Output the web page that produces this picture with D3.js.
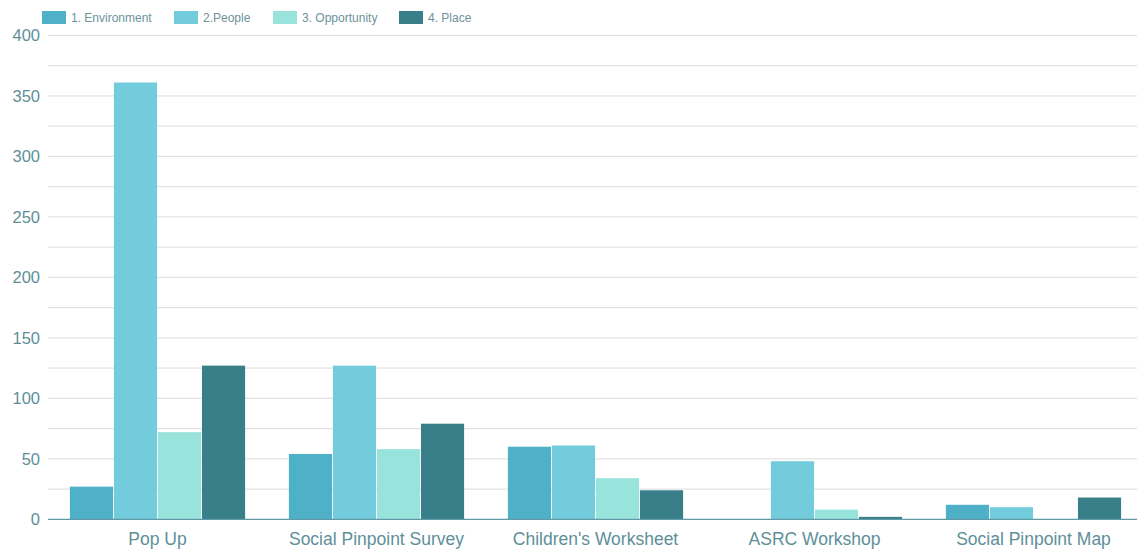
<!DOCTYPE html>
<html><head><meta charset="utf-8">
<script src="https://cdn.jsdelivr.net/npm/d3@7"></script>
<style>body{margin:0;background:#fff;}svg{display:block;font-family:"Liberation Sans",Arial,sans-serif;}</style>
</head><body>
<svg id="c" width="1137" height="551"></svg>
<script>
const categories = ["Pop Up","Social Pinpoint Survey","Children's Worksheet","ASRC Workshop","Social Pinpoint Map"];
const seriesNames = ["1. Environment","2.People","3. Opportunity","4. Place"];
const environment = [27,54,60,0,12];
const people = [361,127,61,48,10];
const opportunity = [72,58,34,8,0];
const place = [127,79,24,2,18];
const colors = ["#4fb1c7","#72ccdc","#99e3dd","#387f8a"];
const yTicks = [0,50,100,150,200,250,300,350,400];

(function(){
const seriesValues = [environment, people, opportunity, place];
const svg = d3.select("#c");
const mLeft = 48, mRight = 1143, mTop = 35.3, mBottom = 519.3;
const x0 = d3.scaleBand().domain(categories).range([mLeft, mRight]).padding(0);
const x1 = d3.scaleBand().domain(seriesNames).range([x0.bandwidth()*0.1, x0.bandwidth()*0.9]).paddingInner(0.02);
const y = d3.scaleLinear().domain([0,400]).range([mBottom, mTop]);

// grid
const gridVals = d3.range(25, 401, 25);
svg.append("g").selectAll("line").data(gridVals).join("line")
  .attr("x1", mLeft).attr("x2", 1137)
  .attr("y1", d=>y(d)).attr("y2", d=>y(d))
  .attr("stroke", "#e3e3e3").attr("stroke-width", 1.2);

// y axis labels
const yAxis = d3.axisLeft(y).tickValues(yTicks).tickSize(0).tickPadding(8);
const ya = svg.append("g").attr("transform", `translate(${mLeft},0)`).call(yAxis);
ya.select(".domain").remove();
ya.selectAll("text").attr("fill","#5e8f99").style("font-size","16.5px").attr("font-family","Liberation Sans, Arial, sans-serif");

// bars
const groups = svg.append("g").selectAll("g").data(categories).join("g")
  .attr("transform", d=>`translate(${x0(d)},0)`);
groups.selectAll("rect").data((d,i)=>seriesNames.map((s,j)=>({s, v: seriesValues[j][i], c: colors[j]})))
  .join("rect")
  .attr("x", d=>x1(d.s)).attr("width", x1.bandwidth())
  .attr("y", d=>y(d.v)).attr("height", d=>mBottom - y(d.v))
  .attr("fill", d=>d.c);

// baseline
svg.append("line").attr("x1", mLeft).attr("x2", 1137).attr("y1", mBottom).attr("y2", mBottom)
  .attr("stroke","#5f9aa6").attr("stroke-width",1.2);

// x axis
const xAxis = d3.axisBottom(x0).tickSize(0).tickPadding(13);
const xa = svg.append("g").attr("transform", `translate(0,${mBottom})`).call(xAxis);
xa.select(".domain").remove();
xa.selectAll("text").attr("fill","#5e8f99").style("font-size","17.5px").attr("font-family","Liberation Sans, Arial, sans-serif");

// legend
const legX = [42, 174, 273, 399];
const leg = svg.append("g").selectAll("g").data(seriesNames).join("g")
  .attr("transform", (d,i)=>`translate(${legX[i]},11)`);
leg.append("rect").attr("width",24).attr("height",13).attr("fill",(d,i)=>colors[i]);
leg.append("text").attr("x",29).attr("y",10.5).text(d=>d)
  .attr("fill","#6c929b").style("font-size","12px");
})();
</script>
</body></html>
